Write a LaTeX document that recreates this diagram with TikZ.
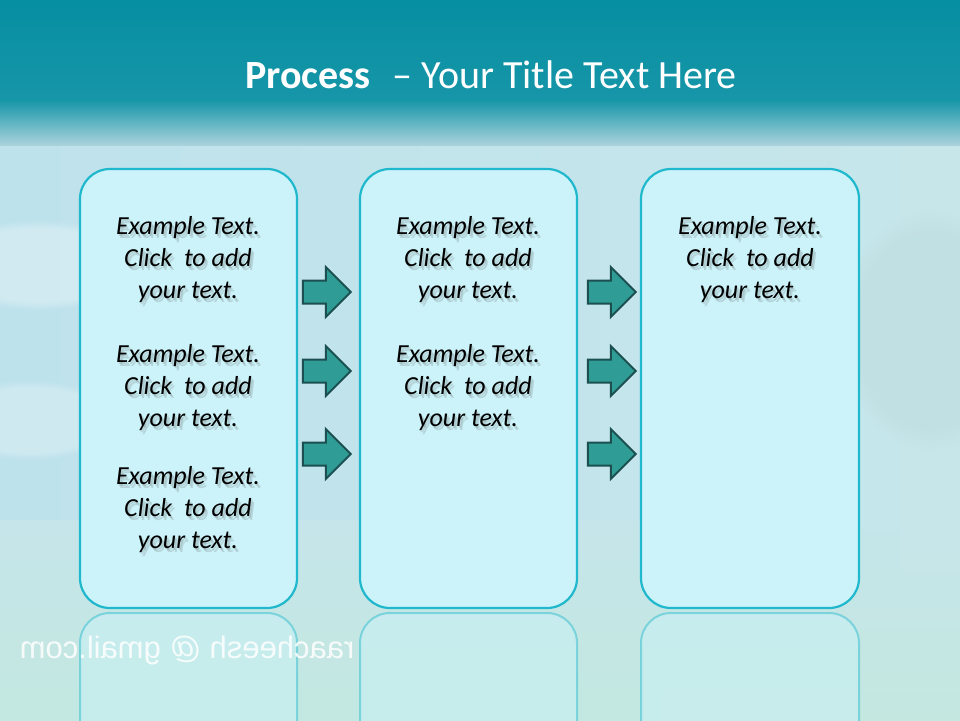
\documentclass[tikz,border=0pt]{standalone}
\usepackage{fontspec}
\setmainfont{Carlito}
\newfontfamily\wmfont{Liberation Sans}
\usetikzlibrary{shapes.arrows,fadings}
\definecolor{hdrtop}{HTML}{068EA2}
\definecolor{hdrmid}{HTML}{1796A8}
\definecolor{hdrlow}{HTML}{A9D2DC}
\definecolor{bgA}{HTML}{BEE2EC}
\definecolor{bgB}{HTML}{C6E6EA}
\definecolor{bgC}{HTML}{C4E9E0}
\definecolor{boxfill}{HTML}{CBF3F9}
\definecolor{boxline}{HTML}{1FB8CC}
\definecolor{arrfill}{HTML}{2F9C95}
\definecolor{arrline}{HTML}{1B4F50}
\tikzset{
  panel/.style={draw=boxline, line width=2.2pt, fill=boxfill, rounded corners=30pt},
  refl/.style={draw=boxline, draw opacity=0.45, line width=2pt, fill=boxfill, fill opacity=0.45, rounded corners=30pt},
  blockarrow/.style={single arrow, draw=arrline, fill=arrfill, line width=2pt,
    inner xsep=0pt, inner ysep=10.5pt, minimum height=48pt,
    single arrow head extend=13.5pt, single arrow head indent=0pt},
  body/.style={font=\fontsize{26pt}{32pt}\selectfont\itshape, align=center, text=black},
  bodysh/.style={body, text=black!70, opacity=0.18},
}
\newcommand\shtext[3]{%
  \node[bodysh] at ([shift={(1.5pt,-2pt)}]#2) {#3};
  \node[bodysh] at ([shift={(3pt,-3.5pt)}]#2) {#3};
  \node[body] (#1) at (#2) {#3};}
\begin{document}
\begin{tikzpicture}[x=1pt,y=-1pt]
\useasboundingbox (0,0) rectangle (960,720);
% background
\shade[left color=bgA, right color=bgB] (0,140) rectangle (960,720);
\shade[top color=bgB, bottom color=bgC, opacity=0.9] (0,520) rectangle (960,720);
\fill[white, opacity=0.3, path fading=circle with fuzzy edge 20 percent] (40,265) ellipse (110 and 45);
\fill[white, opacity=0.25, path fading=circle with fuzzy edge 20 percent] (30,420) ellipse (90 and 40);
\fill[gray, opacity=0.06, path fading=circle with fuzzy edge 20 percent] (930,330) ellipse (90 and 120);
% header
\shade[top color=hdrtop, bottom color=hdrmid] (0,0) rectangle (960,100);
\shade[top color=hdrmid, bottom color=hdrlow] (0,100) rectangle (960,145);
\node[text=white, font=\fontsize{40pt}{44pt}\selectfont, anchor=center] (title) at (491,75)
  {\textbf{Process}\,\, – Your Title Text Here};
% reflections
\begin{scope}
\clip (0,612) rectangle (960,720);
\draw[refl] (80,613) rectangle (297,1052);
\draw[refl] (360,613) rectangle (577,1052);
\draw[refl] (641,613) rectangle (859,1052);
\end{scope}
% watermark
\node[text=white, opacity=0.85, xscale=-1, font=\wmfont\fontsize{31pt}{34pt}\selectfont] (wm) at (187,650) {raacheesh @ gmail.com};
% panels
\draw[panel] (80,169) rectangle (297,608);
\draw[panel] (360,169) rectangle (577,608);
\draw[panel] (641,169) rectangle (859,608);
\coordinate (c11) at (188,260);
\coordinate (c12) at (188,388);
\coordinate (c13) at (188,510);
\coordinate (c21) at (468,260);
\coordinate (c22) at (468,388);
\coordinate (c31) at (750,260);
\shtext{t11}{c11}{Example Text.\\Click\ \ to add\\your text.}
\shtext{t12}{c12}{Example Text.\\Click\ \ to add\\your text.}
\shtext{t13}{c13}{Example Text.\\Click\ \ to add\\your text.}
\shtext{t21}{c21}{Example Text.\\Click\ \ to add\\your text.}
\shtext{t22}{c22}{Example Text.\\Click\ \ to add\\your text.}
\shtext{t31}{c31}{Example Text.\\Click\ \ to add\\your text.}
% arrows
\node[blockarrow] (a11) at (321,292) {};
\node[blockarrow] (a12) at (321,371) {};
\node[blockarrow] (a13) at (321,454) {};
\node[blockarrow] (a21) at (606,292) {};
\node[blockarrow] (a22) at (606,371) {};
\node[blockarrow] (a23) at (606,454) {};
\end{tikzpicture}
\end{document}
